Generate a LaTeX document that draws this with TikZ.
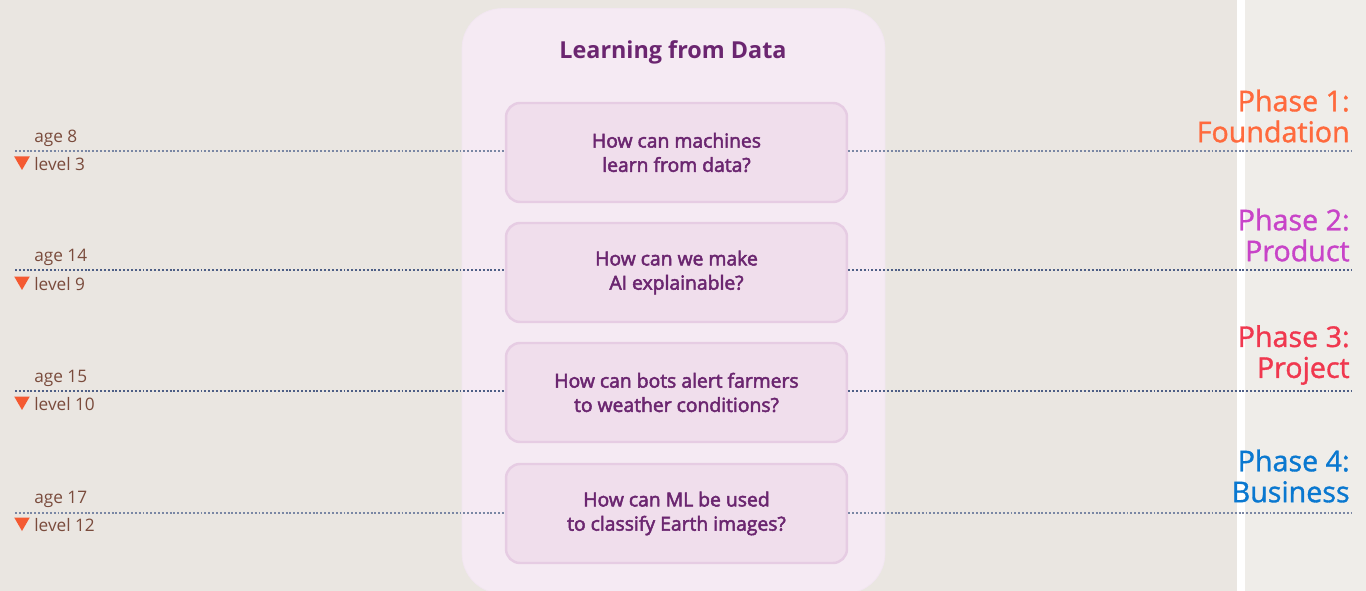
\documentclass[tikz,border=0pt]{standalone}
\usepackage{fontspec}
\setmainfont{Open Sans}
\newfontfamily\medfont{Open Sans}[RawFeature={embolden=2.6}]
\newfontfamily\phasefont{Open Sans}[RawFeature={embolden=1.2}]
\usepackage{tikz}
\usetikzlibrary{positioning, shapes.geometric}
\definecolor{bg-left}{HTML}{EAE6E1}
\definecolor{bg-right}{HTML}{EFEDE9}
\definecolor{panel-pink}{HTML}{F5EAF3}
\definecolor{card-pink}{HTML}{F0DEEC}
\definecolor{card-edge}{HTML}{E6CCE3}
\definecolor{plum}{HTML}{6B2670}
\definecolor{rust}{HTML}{7A4B3C}
\definecolor{tri-red}{HTML}{F45A32}
\definecolor{dot-blue}{HTML}{4E5F86}
\definecolor{ph-one}{HTML}{FF6A3D}
\definecolor{ph-two}{HTML}{C844C8}
\definecolor{ph-three}{HTML}{F0384F}
\definecolor{ph-four}{HTML}{0A78D0}

\begin{document}
\begin{tikzpicture}[
  x=0.02cm, y=-0.02cm,
  card/.style={rectangle, draw=card-edge, line width=1.4pt, fill=card-pink,
               rounded corners=0.28cm, minimum width=6.82cm, minimum height=1.98cm,
               align=center, text=plum, font=\medfont\fontsize{11}{13.8}\selectfont},
  guide/.style={dot-blue!75, line width=0.6pt, dash pattern=on 1.1pt off 1.1pt},
  darkguide/.style={guide, dot-blue, line width=0.8pt},
  agelbl/.style={anchor=west, text=rust, font=\fontsize{9.8}{11}\selectfont, inner sep=0pt},
  tri/.style={regular polygon, regular polygon sides=3, shape border rotate=180,
              fill=tri-red, inner sep=0pt, minimum size=0.36cm},
  phase/.style={anchor=east, align=right, inner sep=0pt,
                font=\phasefont\fontsize{16.3}{17.6}\selectfont}
]
  % background
  \useasboundingbox (0,0) rectangle (1366,591);
  \fill[bg-left] (0,0) rectangle (1237,591);
  \fill[bg-right] (1245,0) rectangle (1366,591);
  \fill[white] (1237,0) rectangle (1245,591);

  % outer panel
  \node[rectangle, fill=panel-pink, draw=card-edge!50, rounded corners=0.8cm,
        minimum width=8.46cm, minimum height=11.7cm, inner sep=0pt] (panel) at (673.5,301) {};
  \node[text=plum, font=\fontsize{13.3}{16}\selectfont\bfseries] (title) at (673,52) {Learning from Data};

  % question cards
  \node[card] (q1) at (676.5,152.5) {How can machines\\ learn from data?};
  \node[card] (q2) at (676.5,272.5) {How can we make\\ AI explainable?};
  \node[card] (q3) at (676.5,392.5) {How can bots alert farmers\\ to weather conditions?};
  \node[card] (q4) at (676.5,513.5) {How can ML be used\\ to classify Earth images?};

  % line ends
  \coordinate (l1) at (15,151);  \coordinate (r1) at (1352,151);
  \coordinate (l2) at (15,270);  \coordinate (r2) at (1352,270);
  \coordinate (l3) at (15,391);  \coordinate (r3) at (1352,391);
  \coordinate (l4) at (15,513);  \coordinate (r4) at (1352,513);

  \draw[guide] (l1) -- (l1 -| q1.west);  \draw[guide] (r1 -| q1.east) -- (r1);
  \draw[darkguide] (l2) -- (l2 -| q2.west);  \draw[darkguide] (r2 -| q2.east) -- (r2);
  \draw[darkguide] (l3) -- (l3 -| q3.west);  \draw[darkguide] (r3 -| q3.east) -- (r3);
  \draw[guide] (l4) -- (l4 -| q4.west);  \draw[guide] (r4 -| q4.east) -- (r4);

  % ages and levels
  \node[agelbl] (age1) at (34,138) {age 8};
  \node[tri] (t1) at (22,161) {};
  \node[agelbl] (lvl1) at (34,164) {level 3};
  \node[agelbl] (age2) at (34,257) {age 14};
  \node[tri] (t2) at (22,281) {};
  \node[agelbl] (lvl2) at (34,284) {level 9};
  \node[agelbl] (age3) at (34,378) {age 15};
  \node[tri] (t3) at (22,401) {};
  \node[agelbl] (lvl3) at (34,404) {level 10};
  \node[agelbl] (age4) at (34,499) {age 17};
  \node[tri] (t4) at (22,522) {};
  \node[agelbl] (lvl4) at (34,525) {level 12};

  % phases
  \node[phase, text=ph-one] (ph1) at (1350,116) {Phase 1:\\Foundation};
  \node[phase, text=ph-two] (ph2) at (1350,235) {Phase 2:\\Product};
  \node[phase, text=ph-three] (ph3) at (1350,355) {Phase 3:\\Project};
  \node[phase, text=ph-four] (ph4) at (1350,476) {Phase 4:\\Business};
\end{tikzpicture}
\end{document}
